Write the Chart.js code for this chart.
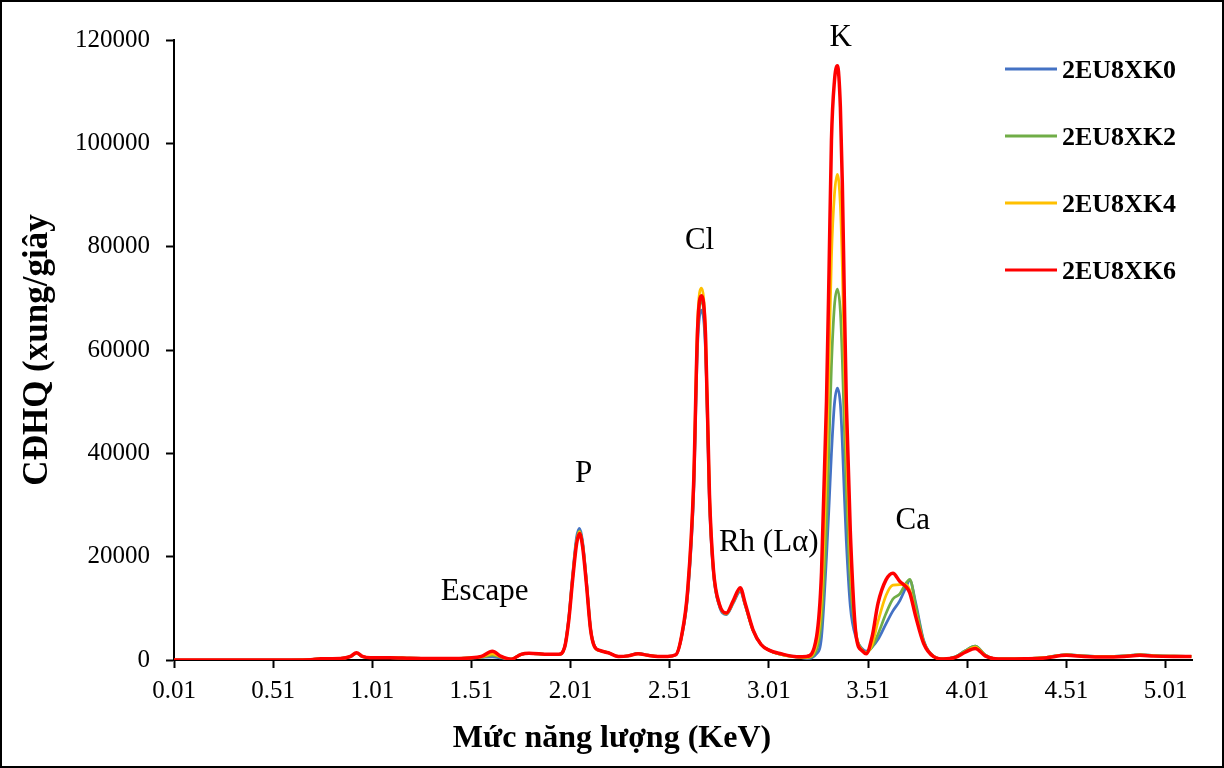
<!DOCTYPE html>
<html>
<head>
<meta charset="utf-8">
<title>Phổ XRF</title>
<script src="https://cdn.jsdelivr.net/npm/chart.js@4.4.1/dist/chart.umd.min.js"></script>
<style>
  html, body { margin: 0; padding: 0; background: #fff; }
  #wrap { width: 1224px; height: 768px; }
</style>
</head>
<body>
<div id="wrap"><canvas id="xrfChart" width="1224" height="768"></canvas></div>
<script>
// XRF spectra, counts per second vs energy (keV)
const energy = [
  0.01, 0.30, 0.60, 0.70, 0.75, 0.85, 0.90, 0.93, 0.96, 1.00,
  1.10, 1.20, 1.30, 1.40, 1.50, 1.56, 1.615, 1.66, 1.71, 1.76,
  1.80, 1.90, 1.95, 1.98, 2.00, 2.02, 2.04, 2.055, 2.07, 2.09,
  2.11, 2.13, 2.16, 2.20, 2.25, 2.30, 2.35, 2.40, 2.45, 2.50,
  2.54, 2.57, 2.60, 2.63, 2.65, 2.67, 2.69, 2.71, 2.73, 2.76,
  2.795, 2.83, 2.865, 2.89, 2.93, 2.97, 3.01, 3.07, 3.15, 3.20,
  3.25, 3.275, 3.30, 3.313, 3.325, 3.34, 3.355, 3.37, 3.38, 3.39,
  3.40, 3.42, 3.45, 3.48, 3.50, 3.53, 3.56, 3.60, 3.635, 3.67,
  3.70, 3.72, 3.75, 3.79, 3.84, 3.89, 3.95, 4.00, 4.05, 4.10,
  4.14, 4.20, 4.30, 4.40, 4.51, 4.60, 4.70, 4.80, 4.88, 4.95, 5.05, 5.14
];

const cpsXK0 = [
  0, 0, 0, 50, 250, 300, 650, 1300, 650, 450,
  450, 350, 300, 300, 400, 500, 600, 400, 150, 1100,
  1300, 1100, 1100, 2600, 8000, 16500, 23800, 25500, 23000, 15200,
  6200, 2700, 1800, 1400, 700, 800, 1300, 950, 700, 700,
  1000, 4600, 12500, 32000, 61000, 67700, 60000, 30500, 16800, 10400,
  8800, 11000, 13300, 10600, 5700, 3000, 1900, 1100, 600, 300,
  1200, 4500, 20000, 30000, 40000, 49500, 52600, 49500, 42000, 32000,
  23000, 10500, 4200, 2200, 1700, 2500, 4000, 7000, 9500, 11500,
  14000, 15400, 11000, 3800, 750, 200, 600, 1800, 2700, 1000,
  300, 200, 250, 450, 1050, 800, 700, 800, 1050, 850, 750, 700
];

const cpsXK2 = [
  0, 0, 0, 50, 250, 300, 680, 1330, 680, 450,
  450, 350, 300, 300, 400, 550, 900, 500, 150, 1100,
  1300, 1100, 1100, 2500, 7700, 16000, 23200, 25000, 22600, 14900,
  6100, 2650, 1800, 1400, 700, 800, 1250, 920, 700, 700,
  1000, 4700, 13000, 33000, 63000, 69500, 61500, 31200, 17100, 10600,
  8900, 11200, 13600, 10700, 5700, 3000, 1900, 1100, 600, 400,
  2000, 8000, 26000, 42000, 57000, 68500, 71800, 67500, 58000, 45000,
  33000, 15000, 4800, 2000, 1500, 2500, 5000, 9000, 11800, 12800,
  14800, 15600, 10500, 3600, 700, 200, 600, 1800, 2700, 1000,
  300, 200, 250, 450, 1050, 800, 700, 800, 1050, 850, 750, 700
];

const cpsXK4 = [
  0, 0, 0, 50, 250, 300, 690, 1350, 690, 450,
  450, 350, 300, 300, 400, 600, 1200, 600, 150, 1100,
  1300, 1100, 1100, 2500, 7600, 15800, 22800, 24800, 22300, 14700,
  6000, 2600, 1800, 1400, 700, 800, 1200, 900, 700, 700,
  1000, 4800, 13500, 34500, 65500, 72000, 63500, 32200, 17400, 10700,
  9000, 11300, 13800, 10800, 5700, 3000, 1900, 1100, 600, 500,
  3000, 12000, 38000, 58000, 78000, 90000, 94000, 88000, 76000, 58000,
  42000, 20000, 4800, 1900, 1400, 3000, 7500, 12500, 14500, 14600,
  14600, 13500, 9000, 3400, 700, 200, 500, 1600, 2500, 900,
  300, 200, 250, 450, 1000, 750, 650, 750, 1000, 800, 750, 700
];

const cpsXK6 = [
  0, 0, 0, 50, 250, 300, 700, 1400, 700, 450,
  450, 350, 300, 300, 400, 700, 1700, 700, 150, 1100,
  1300, 1100, 1100, 2500, 7500, 15500, 22500, 24500, 22000, 14500,
  6000, 2600, 1800, 1400, 700, 800, 1200, 900, 700, 700,
  1000, 4800, 13500, 34000, 64000, 70500, 63000, 32000, 17500, 10800,
  9100, 11500, 14000, 11000, 5800, 3000, 1900, 1200, 650, 700,
  4500, 17000, 50000, 75500, 100600, 112000, 115000, 107000, 92000, 70000,
  50000, 25000, 4500, 1800, 1200, 4500, 11000, 15500, 16800, 15200,
  14200, 13000, 8400, 3200, 650, 200, 500, 1500, 2250, 800,
  300, 200, 250, 400, 900, 700, 600, 700, 900, 750, 700, 700
];

const seriesNames = ['2EU8XK0', '2EU8XK2', '2EU8XK4', '2EU8XK6'];
const seriesColors = ['#4472C4', '#70AD47', '#FFC000', '#FF0000'];

const xTicks = [0.01, 0.51, 1.01, 1.51, 2.01, 2.51, 3.01, 3.51, 4.01, 4.51, 5.01];
const yTicks = [0, 20000, 40000, 60000, 80000, 100000, 120000];

// element labels, anchored at (keV, cps) on the text baseline
const peakNames  = ['Escape', 'P', 'Cl', 'Rh (Lα)', 'K', 'Ca'];
const peakEnergy = [1.576, 2.076, 2.66, 3.009, 3.372, 3.735];
const peakHeight = [11600, 34400, 79500, 21100, 118800, 25300];

const SERIF = '"Liberation Serif", "Times New Roman", serif';

const toPoints = (vals) => energy.map((e, i) => ({ x: e, y: vals[i] }));

const decor = {
  id: 'decor',
  beforeDraw(chart) {
    const ctx = chart.ctx;
    ctx.save();
    ctx.fillStyle = '#fff';
    ctx.fillRect(0, 0, chart.width, chart.height);
    ctx.restore();
  },
  afterDraw(chart) {
    const { ctx, scales: { x, y } } = chart;
    ctx.save();
    ctx.fillStyle = '#000';

    // peak labels
    ctx.font = '31px ' + SERIF;
    ctx.textAlign = 'center';
    ctx.textBaseline = 'alphabetic';
    peakNames.forEach((t, i) => {
      ctx.fillText(t, x.getPixelForValue(peakEnergy[i]), y.getPixelForValue(peakHeight[i]));
    });

    // x axis title, centred on the whole figure
    ctx.font = 'bold 32px ' + SERIF;
    ctx.fillText('Mức năng lượng (KeV)', chart.width / 2, 747);

    // legend
    ctx.font = 'bold 26px ' + SERIF;
    ctx.textAlign = 'left';
    ctx.textBaseline = 'middle';
    chart.data.datasets.forEach((ds, i) => {
      const rowY = 69 + i * 67;
      ctx.strokeStyle = ds.borderColor;
      ctx.lineWidth = 3;
      ctx.beginPath();
      ctx.moveTo(1005, rowY);
      ctx.lineTo(1057, rowY);
      ctx.stroke();
      ctx.fillText(ds.label, 1062, rowY + 2);
    });

    // outer frame
    ctx.strokeStyle = '#000';
    ctx.lineWidth = 2;
    ctx.strokeRect(1, 1, chart.width - 2, chart.height - 2);
    ctx.restore();
  }
};

const seriesData = [cpsXK0, cpsXK2, cpsXK4, cpsXK6];

new Chart(document.getElementById('xrfChart'), {
  type: 'line',
  data: {
    datasets: seriesData.map((vals, i) => ({
      label: seriesNames[i],
      data: toPoints(vals),
      borderColor: seriesColors[i],
      borderWidth: i === 3 ? 3.5 : 2.75,
      pointRadius: 0,
      cubicInterpolationMode: 'monotone',
      fill: false,
      order: 3 - i
    }))
  },
  options: {
    responsive: false,
    animation: false,
    layout: { padding: { left: 0, right: 32, top: 40, bottom: 0 } },
    plugins: {
      legend: { display: false },
      tooltip: { enabled: false }
    },
    scales: {
      x: {
        type: 'linear',
        min: 0.01,
        max: 5.143,
        afterBuildTicks: (scale) => { scale.ticks = xTicks.map(v => ({ value: v })); },
        afterFit: (scale) => { scale.height = 108; },
        ticks: {
          color: '#000',
          font: { family: SERIF, size: 25 },
          padding: 8,
          maxRotation: 0,
          autoSkip: false,
          callback: (v) => Number(v).toFixed(2)
        },
        grid: { drawOnChartArea: false, drawTicks: true, tickLength: 8, tickColor: '#000', tickWidth: 2 },
        border: { display: true, color: '#000', width: 2 }
      },
      y: {
        min: 0,
        max: 120000,
        afterBuildTicks: (scale) => { scale.ticks = yTicks.map(v => ({ value: v })); },
        afterFit: (scale) => { scale.width = 174; },
        ticks: {
          color: '#000',
          font: { family: SERIF, size: 25 },
          padding: 16,
          callback: (v) => String(v)
        },
        grid: { drawOnChartArea: false, drawTicks: true, tickLength: 8, tickColor: '#000', tickWidth: 2 },
        border: { display: true, color: '#000', width: 2 },
        title: {
          display: true,
          text: 'CĐHQ (xung/giây',
          color: '#000',
          font: { family: SERIF, size: 35, weight: 'bold' },
          padding: { top: 17, bottom: 0 }
        }
      }
    }
  },
  plugins: [decor]
});
</script>
</body>
</html>
